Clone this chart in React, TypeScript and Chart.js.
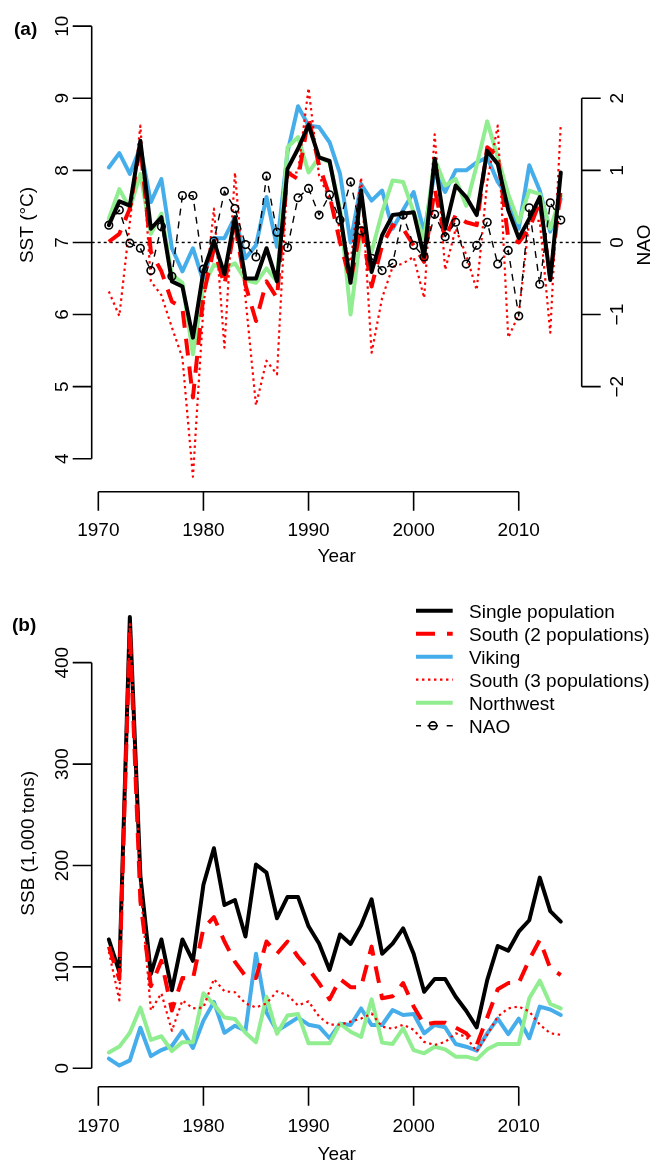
import React, { useEffect, useRef } from "react";
import { Chart, registerables } from "chart.js";

Chart.register(...registerables);

// ---------------- DATA ----------------
const years = [
  1971, 1972, 1973, 1974, 1975, 1976, 1977, 1978, 1979, 1980,
  1981, 1982, 1983, 1984, 1985, 1986, 1987, 1988, 1989, 1990,
  1991, 1992, 1993, 1994, 1995, 1996, 1997, 1998, 1999, 2000,
  2001, 2002, 2003, 2004, 2005, 2006, 2007, 2008, 2009, 2010,
  2011, 2012, 2013, 2014,
];

const xTicks = [1970, 1980, 1990, 2000, 2010];
const sstTicks = [4, 5, 6, 7, 8, 9, 10];
const naoTicks = [-2, -1, 0, 1, 2];
const naoTickLabels = ["\u22122", "\u22121", "0", "1", "2"];
const ssbTicks = [0, 100, 200, 300, 400];

// Panel (a): SST (°C)
const sstSingle = [
  7.24, 7.57, 7.51, 8.41, 7.19, 7.35, 6.46, 6.39, 5.68, 6.6,
  7.02, 6.56, 7.35, 6.5, 6.5, 6.92, 6.46, 8.02, 8.3, 8.63,
  8.18, 8.13, 7.4, 6.44, 7.72, 6.59, 7.1, 7.38, 7.4, 7.42,
  6.8, 8.16, 7.19, 7.79, 7.63, 7.38, 8.27, 8.09, 7.45, 7.06,
  7.33, 7.63, 6.48, 7.97,
];
const sstSouth2 = [
  7.01, 7.12, 7.47, 8.34, 6.87, 6.6, 6.18, 6.09, 4.85, 6.27,
  6.92, 6.41, 7.24, 6.41, 5.91, 6.46, 6.23, 7.97, 7.88, 8.73,
  8.07, 7.65, 7.0, 6.46, 7.24, 6.39, 6.96, 7.24, 7.19, 6.96,
  6.73, 7.74, 7.06, 7.38, 7.28, 7.24, 8.32, 8.2, 7.06, 7.0,
  7.19, 7.56, 6.5, 7.74,
];
const sstViking = [
  8.04, 8.24, 7.95, 8.32, 7.56, 7.88, 6.92, 6.6, 6.92, 6.46,
  7.06, 7.06, 7.35, 6.78, 6.96, 7.63, 6.94, 8.25, 8.89, 8.62,
  8.6, 8.39, 7.95, 7.0, 7.81, 7.58, 7.72, 7.19, 7.45, 7.7,
  7.15, 7.97, 7.7, 8.0, 8.0, 8.11, 8.18, 7.84, 7.63, 7.19,
  8.07, 7.72, 7.15, 7.6,
];
const sstSouth3 = [
  6.32, 5.98, 7.28, 8.62, 6.46, 6.27, 5.82, 5.4, 3.75, 6.1,
  7.47, 5.54, 7.97, 6.23, 4.74, 5.36, 5.17, 7.97, 7.97, 9.14,
  7.93, 7.6, 7.19, 6.73, 7.9, 5.47, 6.23, 6.66, 6.71, 6.8,
  6.23, 8.5, 6.62, 7.19, 6.83, 6.34, 7.84, 8.62, 5.68, 6.0,
  7.3, 7.3, 5.75, 8.64,
];
const sstNorthwest = [
  7.33, 7.74, 7.47, 7.95, 7.12, 7.4, 6.55, 6.44, 5.45, 6.4,
  6.69, 6.64, 6.71, 6.48, 6.44, 6.64, 6.46, 8.32, 8.46, 7.97,
  8.18, 8.11, 7.47, 6.0, 7.15, 6.87, 7.42, 7.86, 7.84, 7.42,
  7.05, 8.16, 7.79, 7.88, 7.51, 8.07, 8.68, 8.18, 7.67, 7.28,
  7.72, 7.67, 7.19, 7.65,
];
const naoIndex = [
  0.24, 0.45, -0.01, -0.08, -0.39, 0.22, -0.47, 0.65, 0.65, -0.37,
  0.02, 0.71, 0.47, -0.03, -0.2, 0.92, 0.14, -0.07, 0.62, 0.75,
  0.38, 0.66, 0.31, 0.84, 0.16, -0.22, -0.39, -0.29, 0.38, -0.04,
  -0.2, 0.39, 0.08, 0.28, -0.3, -0.04, 0.28, -0.3, -0.11, -1.02,
  0.48, -0.58, 0.55, 0.31,
];

// Panel (b): SSB (1,000 tons)
const ssbSingle = [
  127, 95, 445, 190, 93, 127, 77, 127, 106, 181,
  217, 161, 166, 130, 201, 193, 148, 169, 169, 140,
  123, 97, 132, 122.6, 141, 166.6, 113, 123, 138, 113,
  75.5, 88, 88, 70.6, 56.8, 40.3, 87, 120.6, 116, 134.7,
  146, 188, 155, 144.6,
];
const ssbSouth2 = [
  120, 88, 433, 165, 81, 106, 57, 89, 88, 138,
  149, 125, 105, 91, 89, 125, 113, 125, 110, 98,
  84, 68, 88, 80, 80, 120, 69, 71, 84, 61,
  43, 45, 45, 40, 34.5, 23, 50, 78, 84, 84,
  107, 126.5, 98.6, 92,
];
const ssbViking = [
  9.5, 2.7, 7.8, 40, 12, 18, 22, 37, 20, 47,
  65.5, 35, 42, 37, 113, 55, 37, 43.5, 50, 43,
  41, 29.6, 44, 42.7, 59, 42.7, 42.7, 57.5, 52.6, 53.6,
  34.5, 42.7, 40.4, 24, 21.3, 17.4, 34.5, 49, 33.8, 49,
  29.6, 60.8, 58, 52.6,
];
const ssbSouth3 = [
  115, 67, 438, 180, 57, 74, 37, 67, 59, 60,
  88, 76, 75, 64, 60, 64, 76, 72, 62, 66,
  51, 43, 43, 46, 49, 54, 41, 39, 43, 38,
  26, 23, 26, 34.5, 31, 16.4, 33, 51, 59, 61,
  56, 43, 34.5, 33,
];
const ssbNorthwest = [
  15.6, 21.4, 35, 59.8, 28, 31.6, 17, 25.8, 25.8, 74,
  63, 50, 48.6, 35, 25.8, 70.6, 34, 52, 53.6, 24.7,
  24.6, 24.6, 44, 36, 31, 68, 25.3, 24, 39.4, 18,
  14.8, 21.3, 18.7, 11.5, 11.5, 8.8, 18.7, 24, 24, 24,
  69, 86.4, 63.4, 59,
];

const legendLabels = [
  "Single population",
  "South (2 populations)",
  "Viking",
  "South (3 populations)",
  "Northwest",
  "NAO",
];

// ---------------- STYLE ----------------
const W = 654;
const H = 581;
const FAMILY = '"Liberation Sans", Arial, Helvetica, sans-serif';
const FS = 19;
const FONT = `${FS}px ${FAMILY}`;
const BOLD = `bold ${FS}px ${FAMILY}`;
const BLUE = "#46ADEB";
const GREEN = "#90EE90";
const RED = "#FF0000";
const BLACK = "#000000";
const DASH_LONG = [17, 11];
const DOT = [2.4, 3.6];
const DASH_NAO = [7, 6];
const TICK = 19;
const AXW = 1.6;

function pts(vals: number[]) {
  return years.map((y, i) => ({ x: y, y: vals[i] }));
}

function lineDs(
  label: string,
  vals: number[],
  color: string,
  width: number,
  dash: number[],
  order: number,
  axis = "y"
) {
  return {
    label,
    data: pts(vals),
    borderColor: color,
    backgroundColor: color,
    borderWidth: width,
    borderDash: dash,
    borderCapStyle: dash.length ? "butt" : "round",
    borderJoinStyle: "round",
    pointRadius: 0,
    pointHoverRadius: 0,
    tension: 0,
    fill: false,
    order,
    yAxisID: axis,
  };
}

function rotText(ctx: CanvasRenderingContext2D, text: string, x: number, y: number, font: string) {
  ctx.save();
  ctx.translate(x, y);
  ctx.rotate(-Math.PI / 2);
  ctx.font = font;
  ctx.fillStyle = BLACK;
  ctx.textAlign = "center";
  ctx.textBaseline = "alphabetic";
  ctx.fillText(text, 0, 0);
  ctx.restore();
}

function drawBottomAxis(ctx: CanvasRenderingContext2D, xs: any, yLine: number, labelOff: number) {
  const x0 = xs.getPixelForValue(xTicks[0]);
  const x1 = xs.getPixelForValue(xTicks[xTicks.length - 1]);
  ctx.save();
  ctx.strokeStyle = BLACK;
  ctx.lineWidth = AXW;
  ctx.setLineDash([]);
  ctx.beginPath();
  ctx.moveTo(x0, yLine);
  ctx.lineTo(x1, yLine);
  xTicks.forEach((t) => {
    const px = xs.getPixelForValue(t);
    ctx.moveTo(px, yLine);
    ctx.lineTo(px, yLine + TICK);
  });
  ctx.stroke();
  ctx.font = FONT;
  ctx.fillStyle = BLACK;
  ctx.textAlign = "center";
  ctx.textBaseline = "alphabetic";
  xTicks.forEach((t) => {
    ctx.fillText(String(t), xs.getPixelForValue(t), yLine + labelOff);
  });
  ctx.restore();
}

function drawVAxis(
  ctx: CanvasRenderingContext2D,
  ys: any,
  xLine: number,
  ticks: number[],
  labels: string[],
  side: "left" | "right",
  labelBase: number
) {
  const y0 = ys.getPixelForValue(ticks[0]);
  const y1 = ys.getPixelForValue(ticks[ticks.length - 1]);
  const dir = side === "left" ? -1 : 1;
  ctx.save();
  ctx.strokeStyle = BLACK;
  ctx.lineWidth = AXW;
  ctx.setLineDash([]);
  ctx.beginPath();
  ctx.moveTo(xLine, y0);
  ctx.lineTo(xLine, y1);
  ticks.forEach((t) => {
    const py = ys.getPixelForValue(t);
    ctx.moveTo(xLine, py);
    ctx.lineTo(xLine + dir * TICK, py);
  });
  ctx.stroke();
  ctx.restore();
  ticks.forEach((t, i) => {
    rotText(ctx, labels[i], labelBase, ys.getPixelForValue(t), FONT);
  });
}

function makeConfigA() {
  const plugin = {
    id: "panelA",
    beforeDatasetsDraw(chart: any) {
      const { ctx, chartArea } = chart;
      const yz = chart.scales.y2.getPixelForValue(0);
      ctx.save();
      ctx.strokeStyle = BLACK;
      ctx.lineWidth = 1.4;
      ctx.setLineDash([3, 3]);
      ctx.beginPath();
      ctx.moveTo(chartArea.left, yz);
      ctx.lineTo(chartArea.right, yz);
      ctx.stroke();
      ctx.restore();
    },
    afterDraw(chart: any) {
      const { ctx, chartArea } = chart;
      const xs = chart.scales.x;
      drawBottomAxis(ctx, xs, chartArea.bottom, 44.5);
      drawVAxis(ctx, chart.scales.y, chartArea.left, sstTicks, sstTicks.map(String), "left", chartArea.left - 23.7);
      drawVAxis(ctx, chart.scales.y2, chartArea.right, naoTicks, naoTickLabels, "right", chartArea.right + 41);
      ctx.save();
      ctx.font = FONT;
      ctx.fillStyle = BLACK;
      ctx.textAlign = "center";
      ctx.fillText("Year", (chartArea.left + chartArea.right) / 2, chartArea.bottom + 70);
      ctx.restore();
      rotText(ctx, "SST (\u00B0C)", 33, 225, FONT);
      rotText(ctx, "NAO", chartArea.right + 68, 245, FONT);
      ctx.save();
      ctx.font = BOLD;
      ctx.fillStyle = BLACK;
      ctx.textAlign = "left";
      ctx.fillText("(a)", 14, 35);
      ctx.restore();
    },
  };
  return {
    type: "line",
    data: {
      datasets: [
        {
          ...lineDs("NAO", naoIndex, BLACK, 1.4, DASH_NAO, 0, "y2"),
          pointRadius: 3.8,
          pointBorderWidth: 1.6,
          pointBorderColor: BLACK,
          pointBackgroundColor: "rgba(0,0,0,0)",
          pointStyle: "circle",
        },
        lineDs("Single population", sstSingle, BLACK, 4, [], 1),
        lineDs("South (2 populations)", sstSouth2, RED, 4, DASH_LONG, 2),
        lineDs("South (3 populations)", sstSouth3, RED, 2.2, DOT, 3),
        lineDs("Northwest", sstNorthwest, GREEN, 4, [], 4),
        lineDs("Viking", sstViking, BLUE, 4, [], 5),
      ],
    },
    options: {
      animation: false,
      responsive: false,
      maintainAspectRatio: false,
      devicePixelRatio: 1,
      events: [],
      layout: { padding: { left: 91.7, right: W - 581.7, top: 2, bottom: H - 491.7 } },
      plugins: { legend: { display: false }, tooltip: { enabled: false }, title: { display: false } },
      scales: {
        x: { type: "linear", min: 1969.37, max: 2015.99, display: false },
        y: { type: "linear", min: 3.543, max: 10.288, display: false },
        y2: { type: "linear", min: 3.543 - 7, max: 10.288 - 7, display: false },
      },
    },
    plugins: [plugin],
  };
}

function makeConfigB() {
  const plugin = {
    id: "panelB",
    afterDraw(chart: any) {
      const { ctx, chartArea } = chart;
      const xs = chart.scales.x;
      drawBottomAxis(ctx, xs, chartArea.bottom, 45.6);
      drawVAxis(ctx, chart.scales.y, chartArea.left, ssbTicks, ssbTicks.map(String), "left", chartArea.left - 23.7);
      ctx.save();
      ctx.font = FONT;
      ctx.fillStyle = BLACK;
      ctx.textAlign = "center";
      ctx.fillText("Year", (chartArea.left + chartArea.right) / 2, chartArea.bottom + 73);
      ctx.restore();
      rotText(ctx, "SSB (1,000 tons)", 34, (chartArea.top + chartArea.bottom) / 2, FONT);
      ctx.save();
      ctx.font = BOLD;
      ctx.fillStyle = BLACK;
      ctx.textAlign = "left";
      ctx.fillText("(b)", 12, 50);
      ctx.restore();

      // legend
      const lx0 = 416;
      const lx1 = 452.7;
      const tx = 469;
      const y0 = 29.7;
      const dy = 23;
      const styles = [
        { c: BLACK, w: 4, d: [] as number[] },
        { c: RED, w: 4, d: [19, 12] },
        { c: BLUE, w: 4, d: [] as number[] },
        { c: RED, w: 2.2, d: DOT },
        { c: GREEN, w: 4, d: [] as number[] },
      ];
      ctx.save();
      styles.forEach((s, i) => {
        const y = y0 + i * dy;
        ctx.strokeStyle = s.c;
        ctx.lineWidth = s.w;
        ctx.setLineDash(s.d);
        ctx.lineCap = "butt";
        ctx.beginPath();
        ctx.moveTo(lx0, y);
        ctx.lineTo(lx1, y);
        ctx.stroke();
      });
      const yn = y0 + 5 * dy;
      ctx.setLineDash([]);
      ctx.strokeStyle = BLACK;
      ctx.lineWidth = 1.6;
      ctx.beginPath();
      ctx.moveTo(lx0, yn);
      ctx.lineTo(lx0 + 5, yn);
      ctx.moveTo(lx1 - 6, yn);
      ctx.lineTo(lx1, yn);
      ctx.moveTo(427.5, yn);
      ctx.lineTo(438, yn);
      ctx.stroke();
      ctx.beginPath();
      ctx.arc(433, yn, 3.8, 0, Math.PI * 2);
      ctx.stroke();
      ctx.font = FONT;
      ctx.fillStyle = BLACK;
      ctx.textAlign = "left";
      ctx.textBaseline = "alphabetic";
      legendLabels.forEach((t, i) => {
        ctx.fillText(t, tx, y0 + i * dy + 6.8);
      });
      ctx.restore();
    },
  };
  return {
    type: "line",
    data: {
      datasets: [
        lineDs("South (3 populations)", ssbSouth3, RED, 2.2, DOT, 0),
        lineDs("South (2 populations)", ssbSouth2, RED, 4, DASH_LONG, 1),
        lineDs("Northwest", ssbNorthwest, GREEN, 4, [], 2),
        lineDs("Viking", ssbViking, BLUE, 4, [], 3),
        lineDs("Single population", ssbSingle, BLACK, 4, [], 4),
      ],
    },
    options: {
      animation: false,
      responsive: false,
      maintainAspectRatio: false,
      devicePixelRatio: 1,
      events: [],
      layout: { padding: { left: 91.7, right: W - 581.7, top: 19, bottom: 75.3 } },
      plugins: { legend: { display: false }, tooltip: { enabled: false }, title: { display: false } },
      scales: {
        x: { type: "linear", min: 1969.37, max: 2015.99, display: false },
        y: { type: "linear", min: -18.15, max: 461.8, display: false },
      },
    },
    plugins: [plugin],
  };
}

export default function App() {
  const refA = useRef<HTMLCanvasElement>(null);
  const refB = useRef<HTMLCanvasElement>(null);

  useEffect(() => {
    const a = new Chart(refA.current as HTMLCanvasElement, makeConfigA() as any);
    const b = new Chart(refB.current as HTMLCanvasElement, makeConfigB() as any);
    return () => {
      a.destroy();
      b.destroy();
    };
  }, []);

  return (
    <div style={{ position: "absolute", left: 0, top: 0, width: W, height: 2 * H, background: "#fff" }}>
      <canvas ref={refA} width={W} height={H} style={{ display: "block", width: W, height: H }} />
      <canvas ref={refB} width={W} height={H} style={{ display: "block", width: W, height: H }} />
    </div>
  );
}
